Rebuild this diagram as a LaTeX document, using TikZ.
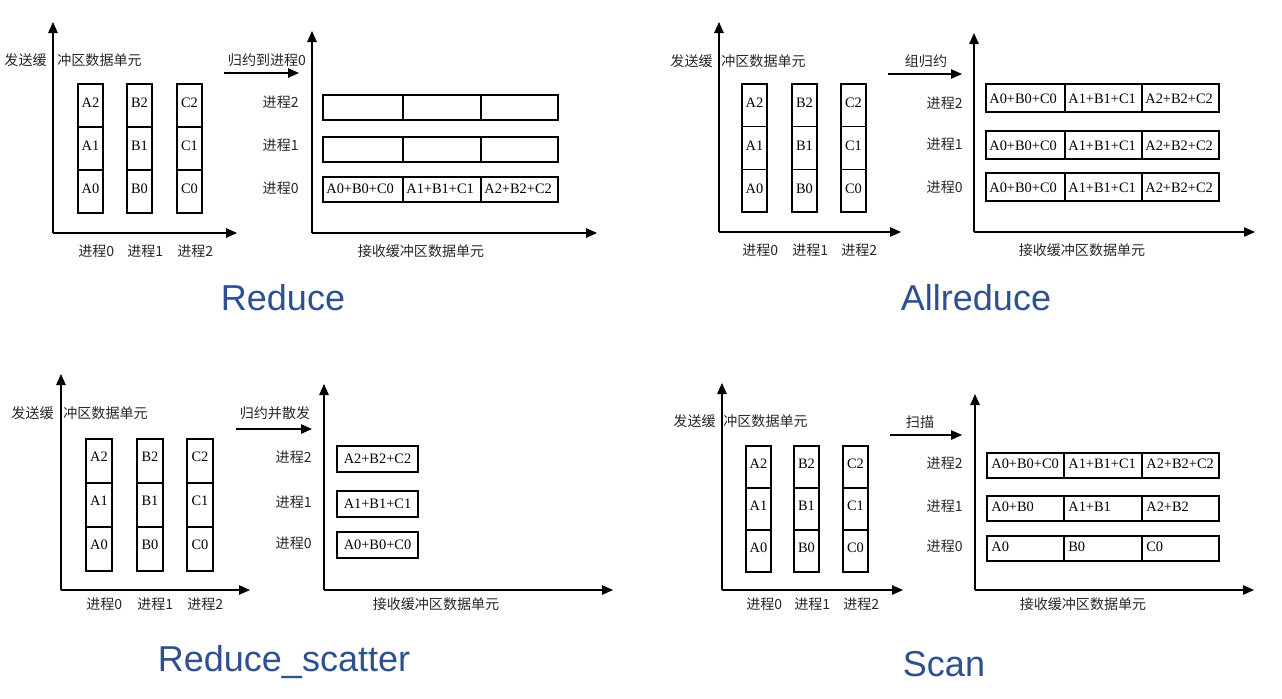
\documentclass[tikz,border=0pt]{standalone}
\usepackage{fontspec}
\setmainfont{Liberation Serif}
\setsansfont{Liberation Sans}
\newfontfamily\cjk{Noto Sans CJK SC}
\usepackage{tikz}
\usetikzlibrary{arrows.meta}

\definecolor{ttlblue}{RGB}{46,80,144}
\tikzset{
  axis/.style={->, line width=0.7pt},
  cellbox/.style={draw, line width=0.7pt},
  cnlab/.style={font=\cjk\fontsize{8}{9}\selectfont, text=black!85, inner sep=0pt},
  val/.style={font=\fontsize{8.2}{10}\selectfont, inner sep=0pt},
  ttl/.style={font=\sffamily\fontsize{20.5}{24}\selectfont, text=ttlblue},
}

\begin{document}
\begin{tikzpicture}[x=0.02cm, y=-0.02cm, >={Triangle[length=0.22cm,width=0.19cm]}]
  \useasboundingbox (0,0) rectangle (1282,698);

  %% ---------------- Reduce (top left) ----------------
  % send buffer
  \coordinate (r-o) at (53,233);
  \coordinate (r-y) at (53,22);
  \coordinate (r-x) at (237,233);
  \draw[axis] (r-o) -- (r-y);
  \draw[axis] (r-o) -- (r-x);
  \node[cnlab, anchor=east] (r-send1) at (47,60) {发送缓};
  \node[cnlab, anchor=west] (r-send2) at (57,60) {冲区数据单元};
  \foreach \col/\x [count=\i from 0] in {A/78,B/127,C/177} {
    \foreach \row in {0,1,2} {
      \draw[cellbox] (\x,{213-43*\row}) rectangle ++(25,-43);
      \node[val] (r-\col\row) at ({\x+12.5},{213-43*\row-24.5}) {\col\row};
    }
    \node[cnlab, anchor=west] (r-p\i) at (\x,251) {进程\i};
  }
  % operation
  \coordinate (r-a1) at (224,73);
  \coordinate (r-a2) at (299,73);
  \draw[axis] (r-a1) -- (r-a2);
  \node[cnlab] (r-op) at (267,60) {归约到进程0};
  % receive buffer
  \coordinate (r-o2) at (312,233);
  \coordinate (r-y2) at (312,31);
  \coordinate (r-x2) at (597,233);
  \draw[axis] (r-o2) -- (r-y2);
  \draw[axis] (r-o2) -- (r-x2);
  \foreach \row/\yt/\yl in {2/95/102,1/137/145,0/177/188} {
    \node[cnlab, anchor=east] (r-q\row) at (299,\yl) {进程\row};
    \foreach \xl/\w in {323/80,403/78,481/77}
      \draw[cellbox] (\xl,\yt) rectangle ++(\w,25);
  }
  \foreach \xl/\txt [count=\j from 0] in {323/A0+B0+C0,403/A1+B1+C1,481/A2+B2+C2}
    \node[val, anchor=west] (r-s0\j) at ({\xl+3},189) {\txt};
  \node[cnlab] (r-recv) at (421,251) {接收缓冲区数据单元};
  \node[ttl] (r-title) at (283,298) {Reduce};

  %% ---------------- Allreduce (top right) ----------------
  \coordinate (a-o) at (719,232);
  \coordinate (a-y) at (719,22);
  \coordinate (a-x) at (901,232);
  \draw[axis] (a-o) -- (a-y);
  \draw[axis] (a-o) -- (a-x);
  \node[cnlab, anchor=east] (a-send1) at (713,61) {发送缓};
  \node[cnlab, anchor=west] (a-send2) at (721,61) {冲区数据单元};
  \foreach \col/\x [count=\i from 0] in {A/742,B/792,C/841} {
    \foreach \row in {0,1,2} {
      \draw[cellbox] (\x,{212-42.7*\row}) rectangle ++(25,-42.7);
      \node[val] (a-\col\row) at ({\x+12.5},{212-42.7*\row-23.5}) {\col\row};
    }
    \node[cnlab, anchor=west] (a-p\i) at (\x,250) {进程\i};
  }
  \coordinate (a-a1) at (888,74);
  \coordinate (a-a2) at (962,74);
  \draw[axis] (a-a1) -- (a-a2);
  \node[cnlab] (a-op) at (926,61) {组归约};
  \coordinate (a-o2) at (974,232);
  \coordinate (a-y2) at (974,33);
  \coordinate (a-x2) at (1255,232);
  \draw[axis] (a-o2) -- (a-y2);
  \draw[axis] (a-o2) -- (a-x2);
  \foreach \row/\yt/\yl in {2/84/103,1/131/144,0/173/187} {
    \node[cnlab, anchor=east] (a-q\row) at (963,\yl) {进程\row};
    \foreach \xl/\w/\txt [count=\j from 0] in {986/79/A0+B0+C0,1065/77/A1+B1+C1,1142/77/A2+B2+C2} {
      \draw[cellbox] (\xl,\yt) rectangle ++(\w,28);
      \node[val, anchor=west] (a-s\row\j) at ({\xl+3},{\yt+15}) {\txt};
    }
  }
  \node[cnlab] (a-recv) at (1082,250) {接收缓冲区数据单元};
  \node[ttl] (a-title) at (976,298) {Allreduce};

  %% ---------------- Reduce_scatter (bottom left) ----------------
  \coordinate (s-o) at (61,590);
  \coordinate (s-y) at (61,374);
  \coordinate (s-x) at (250,590);
  \draw[axis] (s-o) -- (s-y);
  \draw[axis] (s-o) -- (s-x);
  \node[cnlab, anchor=east] (s-send1) at (54,413) {发送缓};
  \node[cnlab, anchor=west] (s-send2) at (63,413) {冲区数据单元};
  \foreach \col/\x [count=\i from 0] in {A/86,B/137,C/187} {
    \foreach \row in {0,1,2} {
      \draw[cellbox] (\x,{571-44*\row}) rectangle ++(26,-44);
      \node[val] (s-\col\row) at ({\x+13},{571-44*\row-26}) {\col\row};
    }
    \node[cnlab, anchor=west] (s-p\i) at (\x,604) {进程\i};
  }
  \coordinate (s-a1) at (236,429);
  \coordinate (s-a2) at (312,429);
  \draw[axis] (s-a1) -- (s-a2);
  \node[cnlab] (s-op) at (275,413) {归约并散发};
  \coordinate (s-o2) at (324,590);
  \coordinate (s-y2) at (324,384);
  \coordinate (s-x2) at (613,590);
  \draw[axis] (s-o2) -- (s-y2);
  \draw[axis] (s-o2) -- (s-x2);
  \foreach \row/\yt/\txt in {2/446/A2+B2+C2,1/491/A1+B1+C1,0/532/A0+B0+C0} {
    \node[cnlab, anchor=east] (s-q\row) at (312,{\yt+11}) {进程\row};
    \draw[cellbox] (337,\yt) rectangle ++(81,26);
    \node[val] (s-s\row) at (377.5,{\yt+13}) {\txt};
  }
  \node[cnlab] (s-recv) at (436,604) {接收缓冲区数据单元};
  \node[ttl] (s-title) at (284,662) {Reduce\_scatter};

  %% ---------------- Scan (bottom right) ----------------
  \coordinate (c-o) at (722,590);
  \coordinate (c-y) at (722,383);
  \coordinate (c-x) at (903,590);
  \draw[axis] (c-o) -- (c-y);
  \draw[axis] (c-o) -- (c-x);
  \node[cnlab, anchor=east] (c-send1) at (716,421) {发送缓};
  \node[cnlab, anchor=west] (c-send2) at (723,421) {冲区数据单元};
  \foreach \col/\x [count=\i from 0] in {A/746,B/794,C/843} {
    \foreach \row in {0,1,2} {
      \draw[cellbox] (\x,{572-42*\row}) rectangle ++(25,-42);
      \node[val] (c-\col\row) at ({\x+12.5},{572-42*\row-24}) {\col\row};
    }
    \node[cnlab, anchor=west] (c-p\i) at (\x,604) {进程\i};
  }
  \coordinate (c-a1) at (890,435);
  \coordinate (c-a2) at (962,435);
  \draw[axis] (c-a1) -- (c-a2);
  \node[cnlab] (c-op) at (920,422) {扫描};
  \coordinate (c-o2) at (975,590);
  \coordinate (c-y2) at (975,394);
  \coordinate (c-x2) at (1254,590);
  \draw[axis] (c-o2) -- (c-y2);
  \draw[axis] (c-o2) -- (c-x2);
  \foreach \row/\yt/\ta/\tb/\tc in {2/453/A0+B0+C0/A1+B1+C1/A2+B2+C2,
                                    1/496/A0+B0/A1+B1/A2+B2,
                                    0/536/A0/B0/C0} {
    \node[cnlab, anchor=east] (c-q\row) at (963,{\yt+10}) {进程\row};
    \foreach \xl/\w/\txt [count=\j from 0] in {987/77/\ta,1064/78/\tb,1142/77/\tc} {
      \draw[cellbox] (\xl,\yt) rectangle ++(\w,25);
      \node[val, anchor=west] (c-s\row\j) at ({\xl+4},{\yt+11}) {\txt};
    }
  }
  \node[cnlab] (c-recv) at (1083,604) {接收缓冲区数据单元};
  \node[ttl] (c-title) at (944,664) {Scan};
\end{tikzpicture}
\end{document}
